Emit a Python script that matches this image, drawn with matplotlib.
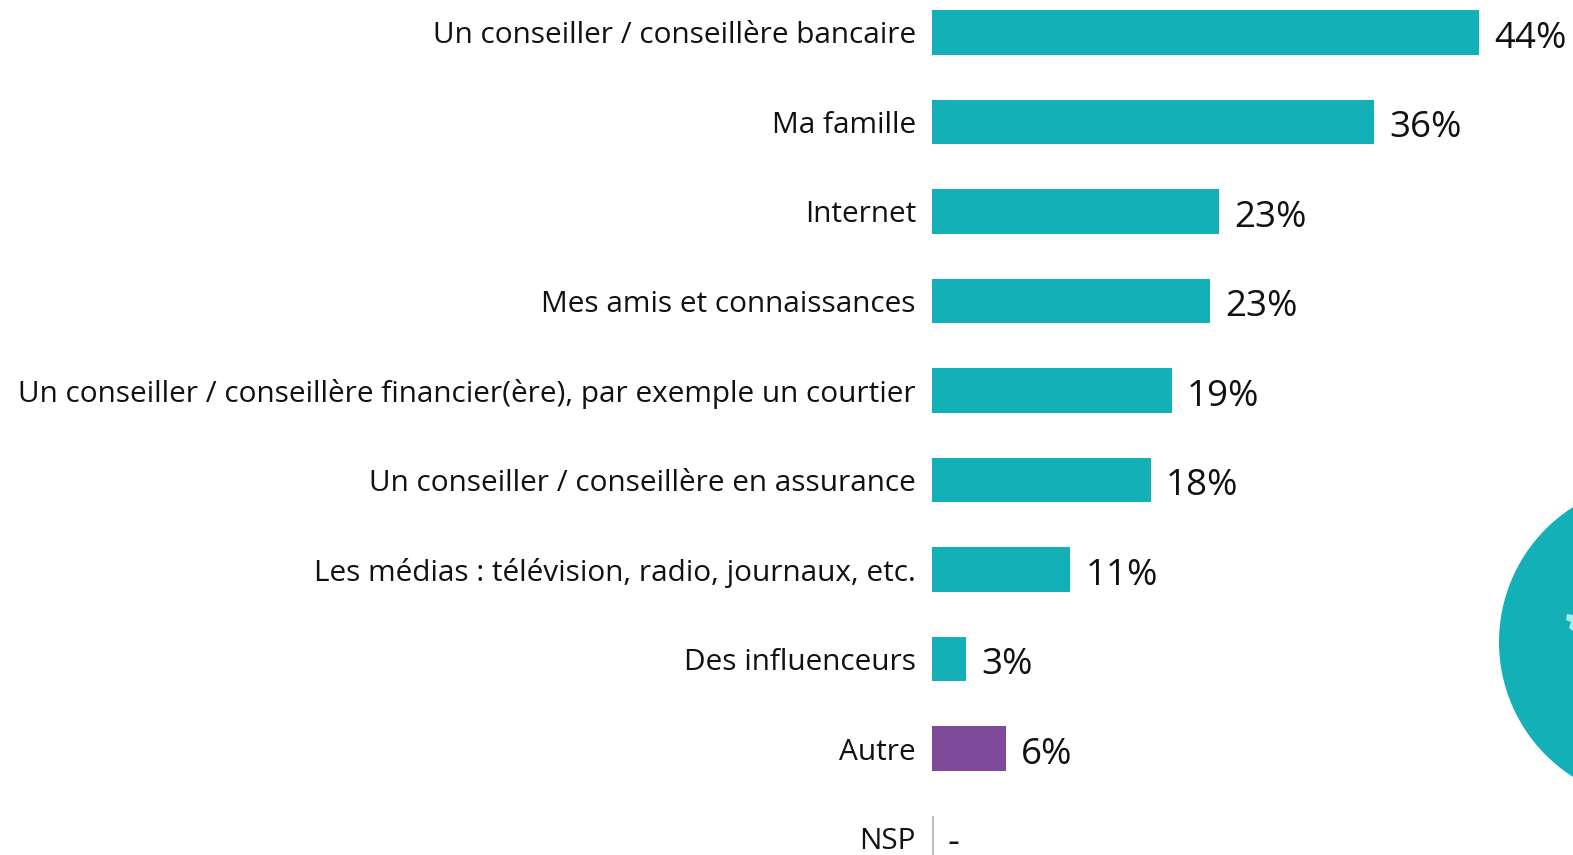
import matplotlib
matplotlib.use("Agg")
import matplotlib.pyplot as plt
from matplotlib.patches import Circle, Polygon

plt.rcParams['font.family'] = ['Open Sans', 'DejaVu Sans']

# --- Data ---
categories = ["Un conseiller / conseillère bancaire", "Ma famille", "Internet",
              "Mes amis et connaissances",
              "Un conseiller / conseillère financier(ère), par exemple un courtier",
              "Un conseiller / conseillère en assurance",
              "Les médias : télévision, radio, journaux, etc.",
              "Des influenceurs", "Autre", "NSP"]
values = [44.0, 35.55, 23.1, 22.4, 19.3, 17.6, 11.1, 2.7, 5.95, 0]
value_labels = ["44%", "36%", "23%", "23%", "19%", "18%", "11%", "3%", "6%", "-"]

TEAL = '#14b0b8'
PURPLE = '#804a9b'
colors = [TEAL] * 8 + [PURPLE, TEAL]

W, H = 1573, 855
fig = plt.figure(figsize=(W / 100, H / 100), dpi=100)
ax = fig.add_axes([0, 0, 1, 1])

# 12.43 px per percent, zero at x=932 ; rows 89.5 px apart, first centre at y=32.5
ax.set_xlim(-932 / 12.43, (W - 932) / 12.43)
ax.set_ylim((H - 32.5) / 89.5, -32.5 / 89.5)

ypos = list(range(len(categories)))
ax.barh(ypos, values, height=0.5, color=colors, zorder=2)
ax.vlines(0.06, 9 - 0.25, 9 + 0.25, color='#bfbfbf', lw=1.5, zorder=2)

ax.set_yticks(ypos)
ax.set_yticklabels(categories, fontsize=21.45, color='#111111')
ax.tick_params(axis='y', length=0)
ax.set_xticks([])
for s in ax.spines.values():
    s.set_visible(False)

# tick labels have to sit inside the figure, so the axes frame is not a limit
offset = matplotlib.transforms.ScaledTranslation(-16 / 100, 0, fig.dpi_scale_trans)
for lab in ax.get_yticklabels():
    lab.set_transform(ax.transData + offset)
    lab.set_x(0)
    lab.set_ha('right')

for y, v, lab in zip(ypos, values, value_labels):
    ax.annotate(lab, xy=(v, y), xytext=(11, -4.6), textcoords='offset points',
                va='center', ha='left', fontsize=26.5, color='#111111')

# circle cut by the right edge, in pixel coordinates
over = fig.add_axes([0, 0, 1, 1], facecolor='none')
over.set_xlim(0, W)
over.set_ylim(H, 0)
over.axis('off')
over.add_patch(Circle((1659, 642), 160, color=TEAL, lw=0))
over.add_patch(Polygon([(1567, 614), (1573, 615), (1573, 631), (1569, 628), (1571, 622), (1566, 620)],
                       closed=True, color='#a8ede9', lw=0))

fig.savefig("out.png", dpi=100)
